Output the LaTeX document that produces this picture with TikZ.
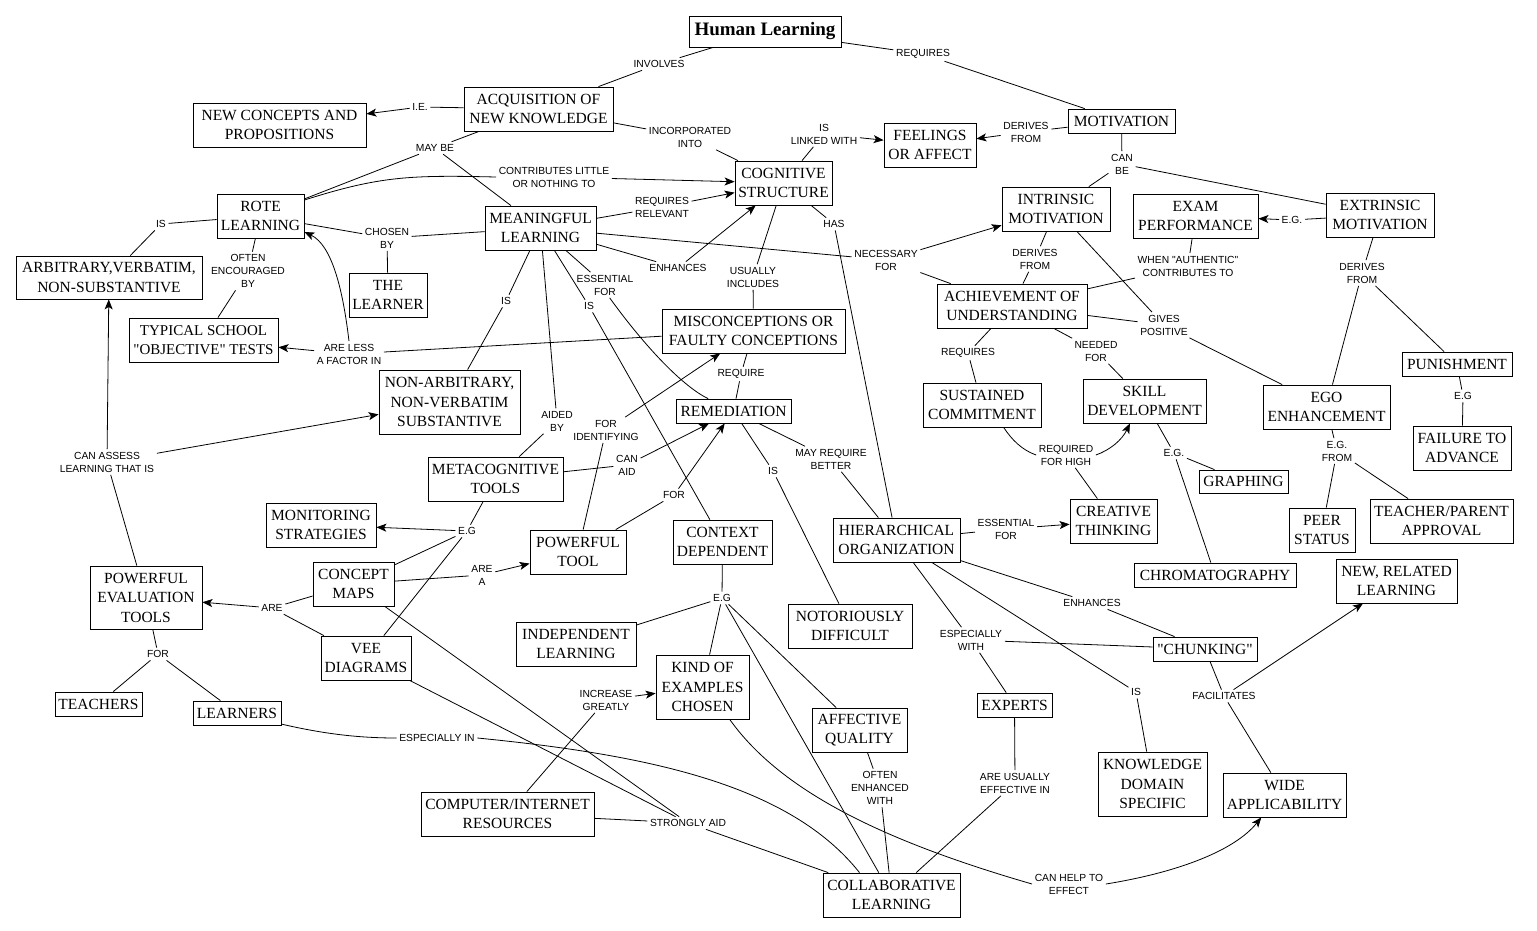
\documentclass[tikz,border=0pt]{standalone}
\usepackage{fontspec}
\setmainfont{Liberation Serif}
\newfontfamily\boxfont{Liberation Serif}
\newfontfamily\lblfont{Liberation Sans}
\usetikzlibrary{arrows.meta}
\newcommand\cbx[6]{\node[bx,minimum width=#4pt,minimum height=#5pt] (#1) at (#2,#3) {#6};}
\newcommand\clb[4]{\node[lb] (#1) at (#2,#3) {#4};}
\begin{document}
\begin{tikzpicture}[x=1pt,y=-1pt,
  bx/.style={draw,line width=0.8pt,inner sep=0pt,align=center,font=\boxfont\fontsize{15.5}{19.5}\selectfont},
  lb/.style={inner sep=2.5pt,align=center,font=\lblfont\fontsize{10.3}{13}\selectfont},
  ln/.style={line width=0.8pt},
  ar/.style={line width=0.8pt,-{Stealth[length=10pt,width=8pt,inset=2.5pt]}}]
\useasboundingbox[fill=white] (0,0) rectangle (1537,930);
% boxes
\node[bx,minimum width=152pt,minimum height=31pt,font=\boxfont\bfseries\fontsize{19}{22}\selectfont] (hl) at (765,31.5) {Human Learning};
\cbx{acq}{538.5}{109}{149}{44}{ACQUISITION OF\\NEW KNOWLEDGE}
\cbx{ncp}{279.5}{125}{173}{44}{NEW CONCEPTS AND\\PROPOSITIONS}
\cbx{mot}{1121.5}{121}{107}{24}{MOTIVATION}
\cbx{fee}{930}{145}{92}{44}{FEELINGS\\OR AFFECT}
\cbx{cs}{783.5}{183}{97}{44}{COGNITIVE\\STRUCTURE}
\cbx{rote}{260.5}{216}{87}{44}{ROTE\\LEARNING}
\cbx{ml}{540.5}{228}{111}{44}{MEANINGFUL\\LEARNING}
\cbx{lrn}{388}{295}{78}{44}{THE\\LEARNER}
\cbx{arb}{109}{277.5}{186}{43}{ARBITRARY,VERBATIM,\\NON-SUBSTANTIVE}
\node[bx,minimum width=149pt,minimum height=44pt,font=\boxfont\fontsize{15}{19.5}\selectfont] (tst) at (203.5,340) {TYPICAL SCHOOL\\"OBJECTIVE" TESTS};
\cbx{na}{449.5}{402}{141}{64}{NON-ARBITRARY,\\NON-VERBATIM\\SUBSTANTIVE}
\cbx{mis}{753.5}{331}{183}{44}{MISCONCEPTIONS OR\\FAULTY CONCEPTIONS}
\cbx{rem}{733.5}{411}{115}{24}{REMEDIATION}
\cbx{meta}{495.5}{479}{135}{44}{METACOGNITIVE\\TOOLS}
\cbx{ms}{321}{525}{110}{44}{MONITORING\\STRATEGIES}
\cbx{pt}{578}{552}{96}{44}{POWERFUL\\TOOL}
\cbx{cd}{722.5}{542}{99}{44}{CONTEXT\\DEPENDENT}
\cbx{ho}{896.5}{540}{127}{44}{HIERARCHICAL\\ORGANIZATION}
\cbx{cm}{353.5}{584}{81}{44}{CONCEPT\\MAPS}
\cbx{pet}{146}{597.5}{112}{63}{POWERFUL\\EVALUATION\\TOOLS}
\cbx{vee}{366}{658}{90}{44}{VEE\\DIAGRAMS}
\cbx{tea}{98.5}{704}{87}{24}{TEACHERS}
\cbx{lrs}{237}{713}{88}{24}{LEARNERS}
\cbx{il}{576}{644}{120}{44}{INDEPENDENT\\LEARNING}
\cbx{koe}{702.5}{687}{93}{64}{KIND OF\\EXAMPLES\\CHOSEN}
\cbx{nd}{850}{626}{124}{44}{NOTORIOUSLY\\DIFFICULT}
\cbx{aq}{859.5}{730}{95}{44}{AFFECTIVE\\QUALITY}
\cbx{col}{891.5}{895}{137}{44}{COLLABORATIVE\\LEARNING}
\cbx{comp}{507.5}{814}{173}{44}{COMPUTER/INTERNET\\RESOURCES}
\cbx{int}{1056}{209}{108}{44}{INTRINSIC\\MOTIVATION}
\cbx{exam}{1195.5}{216}{125}{44}{EXAM\\PERFORMANCE}
\cbx{ext}{1380}{215}{108}{44}{EXTRINSIC\\MOTIVATION}
\cbx{ach}{1012}{306}{150}{44}{ACHIEVEMENT OF\\UNDERSTANDING}
\cbx{skill}{1144.5}{401}{123}{44}{SKILL\\DEVELOPMENT}
\cbx{sc}{982}{405}{118}{44}{SUSTAINED\\COMMITMENT}
\cbx{ego}{1326.5}{407}{127}{44}{EGO\\ENHANCEMENT}
\cbx{pun}{1457}{364}{110}{24}{PUNISHMENT}
\cbx{fail}{1462}{448}{98}{44}{FAILURE TO\\ADVANCE}
\cbx{gra}{1243.5}{481.5}{89}{23}{GRAPHING}
\cbx{ct}{1113.5}{521}{87}{44}{CREATIVE\\THINKING}
\cbx{peer}{1322}{530}{66}{44}{PEER\\STATUS}
\cbx{tpa}{1441.5}{521}{143}{44}{TEACHER/PARENT\\APPROVAL}
\cbx{chr}{1215}{575}{162}{24}{CHROMATOGRAPHY}
\cbx{nrl}{1396.5}{581}{121}{44}{NEW, RELATED\\LEARNING}
\cbx{chu}{1205}{649}{104}{24}{"CHUNKING"}
\cbx{exp}{1014.5}{705}{75}{24}{EXPERTS}
\cbx{kds}{1152.5}{784}{109}{64}{KNOWLEDGE\\DOMAIN\\SPECIFIC}
\cbx{wa}{1284.5}{795}{123}{44}{WIDE\\APPLICABILITY}
% labels
\clb{l1}{659}{64}{INVOLVES}
\clb{l2}{923}{54}{REQUIRES}
\clb{l3}{420}{107}{I.E.}
\clb{l4}{435}{148}{MAY BE}
\clb{l5}{690}{137}{INCORPORATED\\INTO}
\clb{l6}{554}{177}{CONTRIBUTES LITTLE\\OR NOTHING TO}
\clb{l7}{662}{207}{REQUIRES\\RELEVANT}
\clb{l8}{678}{268}{ENHANCES}
\clb{l9}{886}{260}{NECESSARY\\FOR}
\clb{l10}{387}{238}{CHOSEN\\BY}
\clb{l11}{161}{224}{IS}
\clb{l12}{248}{271}{OFTEN\\ENCOURAGED\\BY}
\clb{l13}{349}{354}{ARE LESS\\A FACTOR IN}
\clb{l14}{506}{301}{IS}
\clb{l15}{557}{421}{AIDED\\BY}
\clb{l16}{605}{285}{ESSENTIAL\\FOR}
\clb{l17}{589}{306}{IS}
\clb{l18}{753}{277}{USUALLY\\INCLUDES}
\clb{l19}{824}{134}{IS\\LINKED WITH}
\clb{l20}{834}{224}{HAS}
\clb{l21}{1026}{132}{DERIVES\\FROM}
\clb{l22}{1122}{164}{CAN\\BE}
\clb{l23}{1292}{220}{E.G.}
\clb{l24}{1188}{266}{WHEN "AUTHENTIC"\\CONTRIBUTES TO}
\clb{l25}{1035}{259}{DERIVES\\FROM}
\clb{l26}{1164}{325}{GIVES\\POSITIVE}
\clb{l27}{968}{353}{REQUIRES}
\clb{l28}{1096}{351}{NEEDED\\FOR}
\clb{l29}{1066}{455}{REQUIRED\\FOR HIGH}
\clb{l30}{1174}{453}{E.G.}
\clb{l31}{1362}{273}{DERIVES\\FROM}
\clb{l32}{1463}{396}{E.G}
\clb{l33}{1337}{451}{E.G.\\FROM}
\clb{l34}{1006}{529}{ESSENTIAL\\FOR}
\clb{l35}{1092}{603}{ENHANCES}
\clb{l36}{971}{640}{ESPECIALLY\\WITH}
\clb{l37}{1136}{692}{IS}
\clb{l38}{1224}{696}{FACILITATES}
\clb{l39}{741}{374}{REQUIRE}
\clb{l40}{773}{471}{IS}
\clb{l41}{831}{459}{MAY REQUIRE\\BETTER}
\clb{l42}{627}{465}{CAN\\AID}
\clb{l43}{606}{430}{FOR\\IDENTIFYING}
\clb{l44}{674}{495}{FOR}
\clb{l45}{467}{531}{E.G}
\clb{l46}{482}{575}{ARE\\A}
\clb{l47}{272}{608}{ARE}
\clb{l48}{107}{462}{CAN ASSESS\\LEARNING THAT IS}
\clb{l49}{158}{654}{FOR}
\clb{l50}{437}{738}{ESPECIALLY IN}
\clb{l51}{688}{823}{STRONGLY AID}
\clb{l52}{606}{700}{INCREASE\\GREATLY}
\clb{l53}{722}{598}{E.G}
\clb{l54}{1069}{884}{CAN HELP TO\\EFFECT}
\clb{l55}{880}{788}{OFTEN\\ENHANCED\\WITH}
\clb{l56}{1015}{783}{ARE USUALLY\\EFFECTIVE IN}
% connectors
\draw[ln] (hl) -- (l1); \draw[ln] (l1) -- (acq);
\draw[ln] (hl) -- (l2); \draw[ln] (l2) -- (mot);
\draw[ln] (acq) -- (l3); \draw[ar] (l3) -- (ncp);
\draw[ln] (acq) -- (l4); \draw[ln] (l4) -- (rote); \draw[ln] (l4) -- (ml);
\draw[ln] (acq) -- (l5); \draw[ln] (l5) -- (cs);
\draw[ln] (rote.20) .. controls (380,176) and (410,175) .. (l6.west); \draw[ar] (l6) -- (cs);
\draw[ln] (ml) -- (l7); \draw[ar] (l7) -- (cs);
\draw[ln] (ml) -- (l8); \draw[ar] (l8) -- (cs);
\draw[ln] (ml) -- (l9); \draw[ar] (l9) -- (int); \draw[ln] (l9) -- (ach);
\draw[ln] (rote) -- (l10); \draw[ln] (l10) -- (ml); \draw[ln] (l10) -- (lrn);
\draw[ln] (rote) -- (l11); \draw[ln] (l11) -- (arb);
\draw[ln] (rote) -- (l12); \draw[ln] (l12) -- (tst);
\draw[ln] (mis) -- (l13); \draw[ar] (l13) -- (tst);
\draw[ar] (l13.north) .. controls (343,290) and (332,245) .. (rote.-20);
\draw[ln] (ml) -- (l14); \draw[ln] (l14) -- (na);
\draw[ln] (ml) -- (l15); \draw[ln] (l15) -- (meta);
\draw[ln] (ml) -- (l16); \draw[ln] (l16.-70) .. controls (640,340) and (680,385) .. (rem.154);
\draw[ln] (ml) -- (l17); \draw[ln] (l17) -- (cd);
\draw[ln] (cs) -- (l18); \draw[ln] (l18) -- (mis);
\draw[ln] (cs) -- (l19); \draw[ar] (l19) -- (fee);
\draw[ln] (cs) -- (l20); \draw[ln] (l20) -- (ho);
\draw[ln] (mot) -- (l21); \draw[ar] (l21) -- (fee);
\draw[ln] (mot) -- (l22); \draw[ln] (l22) -- (int); \draw[ln] (l22) -- (ext);
\draw[ln] (ext) -- (l23); \draw[ar] (l23) -- (exam);
\draw[ln] (exam) -- (l24); \draw[ln] (l24) -- (ach);
\draw[ln] (int) -- (l25); \draw[ln] (l25) -- (ach);
\draw[ln] (int) -- (l26); \draw[ln] (ach) -- (l26); \draw[ln] (l26) -- (ego);
\draw[ln] (ach) -- (l27); \draw[ln] (l27) -- (sc);
\draw[ln] (ach) -- (l28); \draw[ln] (l28) -- (skill);
\draw[ln] (sc.-46) .. controls (1012,440) and (1022,450) .. (l29.west);
\draw[ar] (l29.east) .. controls (1110,450) and (1122,440) .. (skill.237);
\draw[ln] (l29) -- (ct);
\draw[ln] (skill) -- (l30); \draw[ln] (l30) -- (gra); \draw[ln] (l30) -- (chr);
\draw[ln] (ext) -- (l31); \draw[ln] (l31) -- (ego); \draw[ln] (l31) -- (pun);
\draw[ln] (pun) -- (l32); \draw[ln] (l32) -- (fail);
\draw[ln] (ego) -- (l33); \draw[ln] (l33) -- (peer); \draw[ln] (l33) -- (tpa);
\draw[ln] (ho) -- (l34); \draw[ar] (l34) -- (ct);
\draw[ln] (ho) -- (l35); \draw[ln] (l35) -- (chu);
\draw[ln] (ho) -- (l36); \draw[ln] (l36) -- (exp); \draw[ln] (l36) -- (chu);
\draw[ln] (ho) -- (l37); \draw[ln] (l37) -- (kds);
\draw[ln] (chu) -- (l38); \draw[ar] (l38) -- (nrl); \draw[ln] (l38) -- (wa);
\draw[ln] (mis) -- (l39); \draw[ln] (l39) -- (rem);
\draw[ln] (rem) -- (l40); \draw[ln] (l40) -- (nd);
\draw[ln] (rem) -- (l41); \draw[ln] (l41) -- (ho);
\draw[ln] (meta) -- (l42); \draw[ar] (l42) -- (rem);
\draw[ln] (pt) -- (l43); \draw[ar] (l43) -- (mis);
\draw[ln] (pt) -- (l44); \draw[ar] (l44) -- (rem);
\draw[ln] (meta) -- (l45); \draw[ar] (l45) -- (ms); \draw[ln] (l45) -- (cm); \draw[ln] (l45) -- (vee);
\draw[ln] (cm) -- (l46); \draw[ar] (l46) -- (pt);
\draw[ln] (cm) -- (l47); \draw[ln] (vee) -- (l47); \draw[ar] (l47) -- (pet);
\draw[ln] (pet) -- (l48); \draw[ar] (l48) -- (arb); \draw[ar] (l48) -- (na);
\draw[ln] (pet) -- (l49); \draw[ln] (l49) -- (tea); \draw[ln] (l49) -- (lrs);
\draw[ln] (lrs.-14) .. controls (320,733) and (355,738) .. (l50.west);
\draw[ln] (l50.east) .. controls (650,755) and (790,785) .. (col.145);
\draw[ln] (cm) -- (l51); \draw[ln] (vee) -- (l51); \draw[ln] (comp) -- (l51); \draw[ln] (l51) -- (col);
\draw[ln] (comp) -- (l52); \draw[ar] (l52) -- (koe);
\draw[ln] (cd) -- (l53); \draw[ln] (l53) -- (il); \draw[ln] (l53) -- (koe); \draw[ln] (l53) -- (aq); \draw[ln] (l53) -- (col);
\draw[ln] (koe.-50) .. controls (780,790) and (880,840) .. (l54.west);
\draw[ar] (l54.east) .. controls (1180,872) and (1235,850) .. (wa.224);
\draw[ln] (aq) -- (l55); \draw[ln] (l55) -- (col);
\draw[ln] (exp) -- (l56); \draw[ln] (l56) -- (col);
\end{tikzpicture}
\end{document}
